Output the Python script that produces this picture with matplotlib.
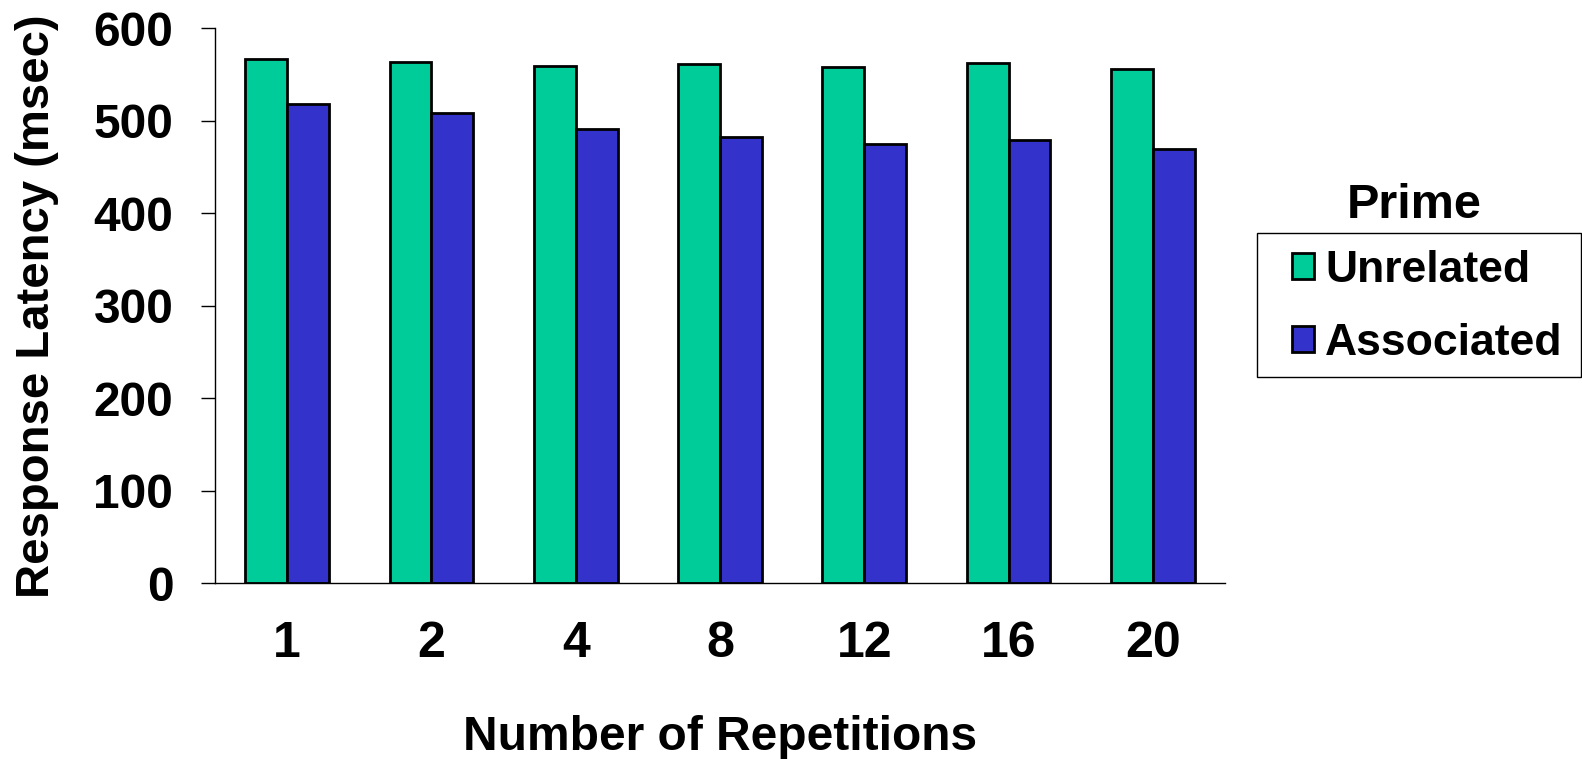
import matplotlib
matplotlib.use("Agg")
import matplotlib.pyplot as plt
from matplotlib.patches import Rectangle
import numpy as np

repetitions = ["1", "2", "4", "8", "12", "16", "20"]
unrelated = [567, 564, 559, 561, 558, 562, 556]
associated = [518, 508, 491, 483, 475, 479, 469]

plt.rcParams['font.family'] = ['Liberation Sans', 'DejaVu Sans']
plt.rcParams['font.weight'] = 'bold'

W, H = 1582, 759
fig = plt.figure(figsize=(W / 100, H / 100), dpi=100)
ax = fig.add_axes([215 / W, 1 - 583.3 / H, 1010 / W, 555 / H])

x = np.arange(len(repetitions))
w = 0.29
ax.bar(x - w / 2, unrelated, w, color='#00CC99', edgecolor='black', linewidth=2, label='Unrelated')
ax.bar(x + w / 2, associated, w, color='#3333CC', edgecolor='black', linewidth=2, label='Associated')

ax.set_xlim(-0.5, len(repetitions) - 0.5)
ax.set_ylim(0, 600)
ax.set_yticks(np.arange(0, 601, 100))
ax.set_xticks(x)
ax.set_xticklabels(repetitions)

for s in ['top', 'right']:
    ax.spines[s].set_visible(False)
ax.spines['left'].set_linewidth(1)
ax.spines['bottom'].set_linewidth(1)

ax.tick_params(axis='y', direction='out', length=10, width=1, labelsize=34.5, pad=20)
ax.tick_params(axis='x', length=0, labelsize=36, pad=27)
for lbl in ax.get_xticklabels() + ax.get_yticklabels():
    lbl.set_fontweight('bold')

ax.set_xlabel("Number of Repetitions", fontsize=34.5, fontweight='bold', labelpad=35)
ax.set_ylabel("Response Latency (msec)", fontsize=34, fontweight='bold', labelpad=25)

# legend: title sits above a plain box
fig.text(1414 / W, 1 - 205 / H, "Prime", fontsize=35, fontweight='bold',
         ha='center', va='center')
fig.add_artist(Rectangle((1257 / W, 1 - 377 / H), 324 / W, 144 / H,
                         transform=fig.transFigure, fill=False,
                         edgecolor='black', linewidth=1))
leg = fig.legend(loc='upper left', bbox_to_anchor=(1283 / W, 1 - 241 / H),
                 bbox_transform=fig.transFigure, fontsize=32, frameon=False,
                 borderaxespad=0, borderpad=0.2,
                 handlelength=0.5, handleheight=0.5, handletextpad=0.25,
                 labelspacing=0.72)
for t in leg.get_texts():
    t.set_fontweight('bold')

fig.savefig("out.png", dpi=100)
